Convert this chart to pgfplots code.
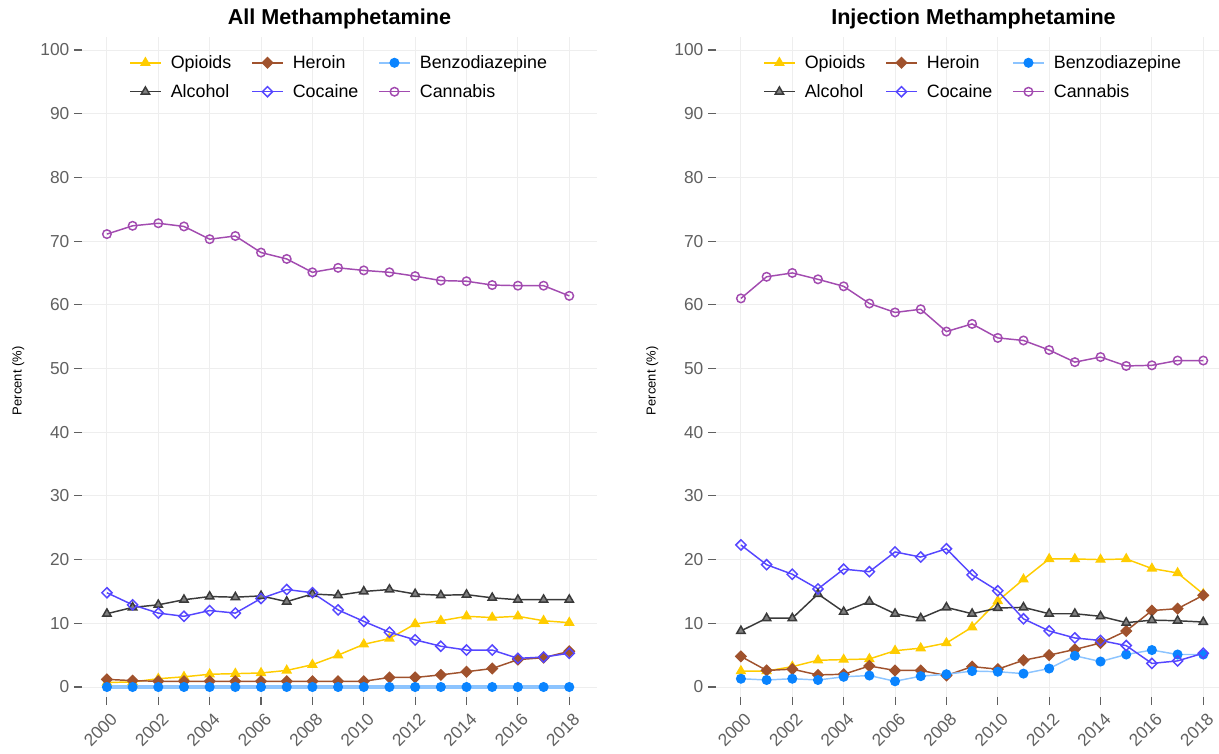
\documentclass[border=0pt]{standalone}
\usepackage{fontspec}
\setmainfont{Liberation Sans}
\usepackage{pgfplots}
\usepackage{pgfplotstable}
\pgfplotsset{compat=1.18}

\definecolor{opiC}{HTML}{FFCC00}
\definecolor{herC}{HTML}{A0522D}
\definecolor{benC}{HTML}{0A84FF}
\definecolor{benL}{HTML}{8CC4FF}
\definecolor{alcC}{HTML}{3A3A3A}
\definecolor{alcM}{HTML}{808080}
\definecolor{cocC}{HTML}{5546FF}
\definecolor{canC}{HTML}{A24BB0}
\definecolor{gridC}{HTML}{EEEEEE}
\definecolor{tickC}{HTML}{606060}

% year opioids heroin benzo alcohol cocaine cannabis
\pgfplotstableread{
year opi her ben alc coc can
2000 0.7  1.2 0 11.5 14.8 71.1
2001 0.8  1.0 0 12.5 12.9 72.4
2002 1.3  0.9 0 12.9 11.6 72.8
2003 1.6  0.9 0 13.7 11.1 72.3
2004 2.0  0.9 0 14.2 12.0 70.3
2005 2.1  0.9 0 14.1 11.6 70.8
2006 2.2  0.9 0 14.3 13.9 68.2
2007 2.6  0.9 0 13.4 15.3 67.2
2008 3.5  0.9 0 14.6 14.8 65.1
2009 5.0  0.9 0 14.4 12.1 65.8
2010 6.7  0.9 0 15.0 10.3 65.4
2011 7.6  1.5 0 15.3 8.6  65.1
2012 9.9  1.5 0 14.6 7.4  64.5
2013 10.4 1.9 0 14.4 6.4  63.8
2014 11.1 2.4 0 14.5 5.8  63.7
2015 10.9 2.9 0 14.0 5.8  63.1
2016 11.1 4.3 0 13.7 4.5  63.0
2017 10.4 4.6 0 13.7 4.7  63.0
2018 10.1 5.6 0 13.7 5.3  61.4
}\allmeth

\pgfplotstableread{
year opi her ben alc coc can
2000 2.5  4.8  1.3 8.8  22.3 61.0
2001 2.5  2.6  1.1 10.8 19.2 64.4
2002 3.2  2.8  1.3 10.8 17.7 65.0
2003 4.2  1.9  1.1 14.6 15.4 64.0
2004 4.3  2.0  1.6 11.8 18.5 62.9
2005 4.4  3.3  1.8 13.4 18.1 60.2
2006 5.7  2.6  0.9 11.5 21.2 58.8
2007 6.1  2.6  1.7 10.8 20.4 59.3
2008 6.9  1.8  2.0 12.5 21.7 55.8
2009 9.4  3.2  2.5 11.5 17.6 57.0
2010 13.5 2.8  2.4 12.4 15.1 54.8
2011 16.9 4.2  2.1 12.5 10.7 54.4
2012 20.1 5.0  2.9 11.5 8.8  52.9
2013 20.1 5.9  4.9 11.5 7.7  51.0
2014 20.0 6.9  4.0 11.1 7.3  51.8
2015 20.1 8.8  5.1 10.1 6.5  50.4
2016 18.6 12.0 5.8 10.5 3.7  50.5
2017 17.9 12.3 5.1 10.4 4.1  51.25
2018 14.6 14.4 5.1 10.2 5.3  51.25
}\injmeth

\pgfplotsset{
  panel/.style={
    scale only axis, width=386.25pt, height=495pt,
    xmin=1999.03, xmax=2019.08, ymin=-1.57, ymax=102.04,
    xtick={2000,2002,...,2018}, ytick={0,10,...,100},
    grid=major, major grid style={color=gridC, line width=0.7pt},
    axis line style={draw=none},
    tick pos=left, tick align=outside, major tick length=6pt,
    tick style={color=tickC, line width=0.8pt},
    /pgf/number format/.cd, 1000 sep={}, assume math mode=true, /pgfplots/.cd,
    ticklabel style={font=\fontsize{13}{15}\selectfont, color=tickC},
    xticklabel style={rotate=45, anchor=north east, inner sep=2pt, yshift=-3pt},
    ylabel={Percent (\%)},
    every axis y label/.style={at={(axis description cs:-0.124,0.479)}, rotate=90,
      anchor=center, font=\fontsize{9.75}{12}\selectfont},
    title style={at={(axis description cs:0.5,1)}, anchor=base, yshift=3pt,
      font=\bfseries\fontsize{16.2}{19}\selectfont},
    legend columns=3, legend cell align=left,
    legend style={at={(0.5,0.939)}, anchor=center, draw=none, fill=none,
      font=\fontsize{13.4}{15}\selectfont, row sep=6.5pt,
      /tikz/every odd column/.append style={column sep=5pt},
      /tikz/every even column/.append style={column sep=13pt}},
    legend image code/.code={\draw[mark repeat=2, mark phase=2]
      plot coordinates {(0pt,0pt) (11.5pt,0pt) (23pt,0pt)};},
    every axis plot/.append style={line width=1.1pt},
  },
  opi/.style={color=opiC, mark=triangle*, mark size=3.6pt, mark options={solid, fill=opiC}},
  her/.style={color=herC, mark=square*, mark size=2.7pt, mark options={solid, rotate=45, fill=herC}},
  ben/.style={color=benL, mark=*, mark size=3.2pt, mark options={solid, draw=benC, fill=benC}},
  alc/.style={color=alcC, mark=triangle*, mark size=3.6pt, mark options={solid, fill=alcM, draw=alcC}},
  coc/.style={color=cocC, mark=square, mark size=2.7pt, mark options={solid, rotate=45}},
  can/.style={color=canC, mark=o, mark size=3.2pt, mark options={solid}},
}

\begin{document}
\begin{tikzpicture}
\path[use as bounding box] (-61.5pt,-42pt) rectangle (852.75pt,522.75pt);

\begin{axis}[panel, at={(0pt,0pt)}, anchor=south west, title={All Methamphetamine}]
\addplot[opi] table[x=year, y=opi] {\allmeth};
\addlegendentry{Opioids}
\addplot[her] table[x=year, y=her] {\allmeth};
\addlegendentry{Heroin}
\addplot[color=benL, line width=3.5pt, forget plot] table[x=year, y=ben] {\allmeth};
\addplot[ben] table[x=year, y=ben] {\allmeth};
\addlegendentry{Benzodiazepine}
\addplot[alc] table[x=year, y=alc] {\allmeth};
\addlegendentry{Alcohol}
\addplot[coc] table[x=year, y=coc] {\allmeth};
\addlegendentry{Cocaine}
\addplot[can] table[x=year, y=can] {\allmeth};
\addlegendentry{Cannabis}
\end{axis}

\begin{axis}[panel, at={(475.5pt,0pt)}, anchor=south west, title={Injection Methamphetamine}]
\addplot[opi] table[x=year, y=opi] {\injmeth};
\addlegendentry{Opioids}
\addplot[her] table[x=year, y=her] {\injmeth};
\addlegendentry{Heroin}
\addplot[ben] table[x=year, y=ben] {\injmeth};
\addlegendentry{Benzodiazepine}
\addplot[alc] table[x=year, y=alc] {\injmeth};
\addlegendentry{Alcohol}
\addplot[coc] table[x=year, y=coc] {\injmeth};
\addlegendentry{Cocaine}
\addplot[can] table[x=year, y=can] {\injmeth};
\addlegendentry{Cannabis}
\end{axis}
\end{tikzpicture}
\end{document}
